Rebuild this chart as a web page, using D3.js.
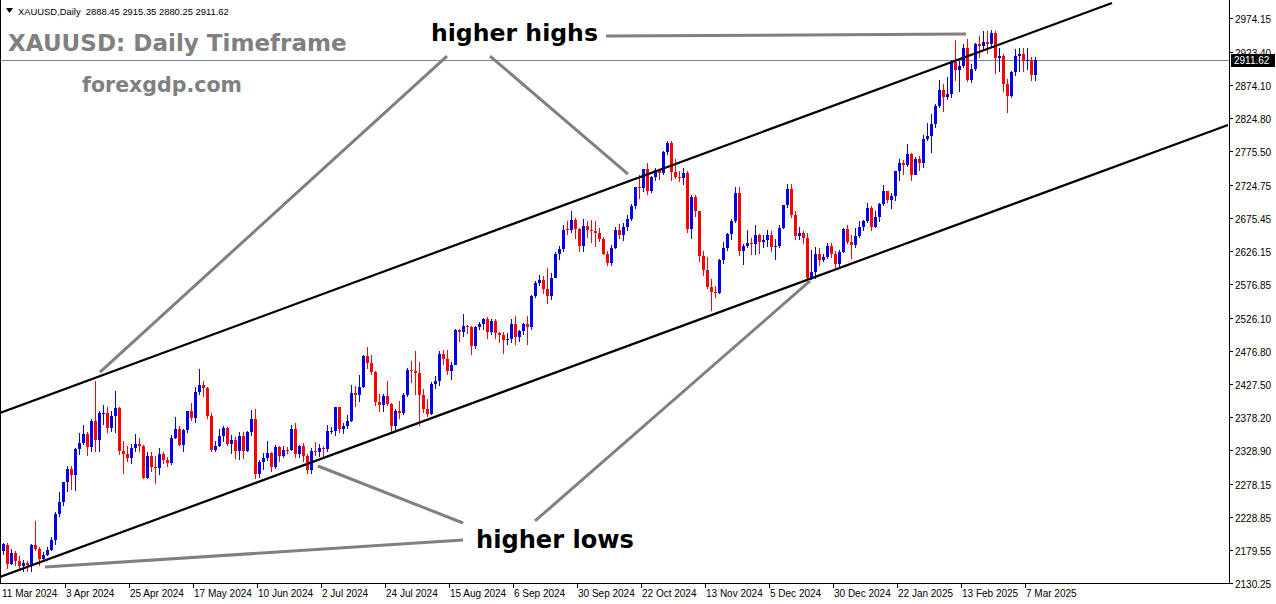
<!DOCTYPE html>
<html><head><meta charset="utf-8">
<script src="https://cdn.jsdelivr.net/npm/d3@7"></script>
<style>html,body{margin:0;padding:0;background:#fff;overflow:hidden}svg{display:block}</style>
</head><body>
<svg id="chart" width="1276" height="604"></svg>
<script>
// ---------------- data ----------------
const symbolTitle = "XAUUSD: Daily Timeframe";
const siteName = "forexgdp.com";
const headerText = "XAUUSD,Daily  2888.45 2915.35 2880.25 2911.62";
const lastPrice = 2911.62;

const dateLabels = ["11 Mar 2024","3 Apr 2024","25 Apr 2024","17 May 2024","10 Jun 2024","2 Jul 2024","24 Jul 2024","15 Aug 2024","6 Sep 2024","30 Sep 2024","22 Oct 2024","13 Nov 2024","5 Dec 2024","30 Dec 2024","22 Jan 2025","13 Feb 2025","7 Mar 2025"];
const dateLabelBars = [0,16,32,48,64,80,96,112,128,144,160,176,192,208,224,240,256];
const priceTicks = [2974.15,2923.40,2874.10,2824.80,2775.50,2724.75,2675.45,2626.15,2576.85,2526.10,2476.80,2427.50,2378.20,2328.90,2278.15,2228.85,2179.55,2130.25];

const open = [2178,2186,2158,2174,2162,2155,2160,2157,2186,2181,
2165,2172,2179,2194,2233,2251,2280,2300,2291,2330,
2339,2352,2333,2372,2344,2383,2383,2361,2379,2391,
2327,2322,2316,2332,2337,2335,2286,2320,2303,2301,
2323,2314,2309,2346,2360,2336,2358,2386,2376,2415,
2425,2421,2379,2329,2334,2350,2361,2338,2343,2327,
2350,2327,2355,2375,2293,2311,2316,2324,2303,2333,
2319,2329,2328,2360,2322,2334,2319,2298,2327,2326,
2332,2330,2356,2357,2392,2359,2364,2371,2414,2411,
2422,2469,2459,2445,2400,2396,2409,2397,2364,2387,
2384,2411,2448,2446,2443,2410,2390,2382,2427,2431,
2472,2465,2447,2456,2507,2504,2513,2512,2484,2512,
2517,2524,2504,2521,2503,2500,2493,2495,2517,2497,
2506,2516,2512,2558,2578,2582,2569,2559,2586,2621,
2629,2658,2657,2672,2658,2634,2663,2657,2656,2653,
2644,2622,2608,2630,2657,2649,2662,2674,2693,2721,
2720,2748,2715,2736,2747,2743,2774,2788,2744,2736,
2735,2742,2658,2706,2685,2618,2598,2572,2565,2563,
2612,2631,2651,2670,2712,2626,2633,2638,2637,2650,
2640,2643,2650,2632,2633,2660,2694,2718,2680,2648,
2652,2646,2586,2594,2622,2612,2617,2634,2621,2606,
2624,2658,2640,2635,2648,2661,2670,2690,2662,2677,
2696,2715,2702,2708,2745,2757,2755,2771,2740,2763,
2758,2794,2798,2815,2842,2867,2856,2861,2908,2897,
2903,2929,2882,2898,2935,2933,2939,2936,2952,2915,
2917,2876,2857,2893,2917,2920,2910,2911,2888.45];

const high = [2190,2189,2180,2178,2170,2164,2163,2188,2222,2183,
2176,2184,2199,2236,2266,2281,2304,2305,2331,2354,
2365,2355,2375,2431,2387,2395,2392,2386,2417,2393,
2342,2335,2338,2352,2346,2336,2326,2326,2320,2331,
2326,2318,2351,2378,2364,2359,2387,2398,2422,2450,
2432,2423,2384,2342,2359,2364,2363,2351,2348,2355,
2355,2357,2388,2389,2313,2324,2342,2326,2336,2334,
2335,2333,2365,2369,2336,2339,2322,2331,2340,2338,
2335,2365,2363,2393,2393,2368,2380,2425,2424,2440,
2470,2483,2470,2447,2412,2412,2431,2399,2390,2402,
2413,2451,2462,2477,2460,2420,2404,2430,2439,2476,
2478,2478,2460,2509,2509,2531,2515,2514,2513,2520,
2526,2527,2524,2524,2505,2504,2503,2524,2529,2507,
2518,2529,2560,2581,2590,2589,2600,2593,2625,2634,
2664,2670,2685,2675,2660,2673,2670,2672,2670,2660,
2647,2626,2635,2661,2666,2667,2679,2696,2722,2740,
2749,2758,2738,2750,2748,2775,2790,2790,2763,2745,
2750,2745,2710,2710,2686,2626,2617,2584,2573,2614,
2639,2652,2674,2721,2721,2637,2657,2645,2665,2651,
2650,2657,2655,2644,2664,2695,2726,2726,2685,2661,
2655,2653,2628,2632,2630,2622,2638,2638,2626,2628,
2660,2665,2649,2660,2671,2672,2697,2693,2686,2698,
2725,2716,2712,2745,2763,2762,2786,2772,2766,2768,
2799,2817,2830,2845,2882,2875,2886,2911,2942,2910,
2935,2943,2905,2937,2947,2954,2954,2956,2955,2930,
2920,2883,2895,2928,2930,2930,2930,2916,2915.35];

const low = [2172,2150,2156,2155,2150,2146,2146,2146,2178,2155,
2162,2170,2177,2186,2228,2245,2266,2268,2267,2321,
2336,2319,2325,2325,2325,2365,2354,2355,2353,2321,
2292,2310,2308,2326,2325,2285,2285,2295,2277,2291,
2307,2303,2306,2345,2334,2326,2354,2371,2369,2411,
2407,2375,2325,2325,2333,2340,2335,2323,2315,2314,
2315,2325,2350,2285,2287,2298,2312,2296,2300,2310,
2316,2322,2327,2317,2316,2310,2293,2293,2319,2318,
2315,2326,2352,2350,2353,2352,2360,2370,2392,2400,
2421,2450,2440,2394,2385,2385,2394,2353,2355,2375,
2380,2407,2428,2410,2364,2384,2378,2381,2419,2424,
2455,2441,2433,2455,2490,2498,2502,2470,2479,2507,
2507,2495,2500,2495,2488,2472,2485,2489,2485,2490,
2500,2486,2508,2555,2574,2561,2546,2552,2585,2613,
2624,2650,2653,2644,2624,2624,2645,2638,2632,2640,
2620,2604,2603,2629,2644,2641,2656,2670,2688,2704,
2714,2709,2712,2730,2732,2740,2769,2730,2733,2729,
2725,2652,2644,2677,2610,2589,2569,2536,2555,2562,
2607,2626,2643,2667,2618,2605,2630,2620,2620,2622,
2630,2632,2625,2613,2630,2658,2690,2675,2643,2643,
2637,2583,2583,2584,2603,2610,2614,2615,2597,2600,
2623,2637,2614,2630,2645,2656,2668,2656,2660,2669,
2693,2697,2689,2700,2730,2740,2751,2730,2739,2745,
2750,2790,2772,2810,2840,2834,2852,2855,2880,2864,
2900,2878,2877,2895,2915,2925,2920,2930,2890,2893,
2864,2832,2855,2888,2894,2893,2896,2880,2880.25];

const close = [2188,2158,2174,2162,2155,2160,2157,2186,2181,2165,
2172,2179,2194,2233,2251,2280,2300,2291,2330,2339,
2352,2333,2372,2344,2383,2383.5,2361,2379,2391,2327,
2322,2316,2332,2337,2335,2286,2320,2303,2301,2323,
2314,2309,2346,2360,2336,2358,2386,2376,2415,2425,
2421,2379,2329,2334,2350,2361,2338,2343,2327,2350,
2327,2355,2375,2293,2311,2316,2324,2303,2333,2319,
2329,2328,2360,2322,2334,2319,2298,2327,2326,2332,
2330,2356,2357,2392,2359,2364,2371,2414,2411,2422,
2469,2459,2445,2400,2396,2409,2397,2364,2387,2384,
2411,2448,2446,2443,2410,2390,2382,2427,2431,2472,
2465,2447,2456,2507,2504,2513,2512,2484,2512,2517,
2524,2504,2521,2503,2500,2493,2495,2517,2497,2506,
2516,2512,2558,2578,2582,2569,2559,2586,2621,2629,
2657,2657,2672,2658,2634,2663,2657,2656,2653,2644,
2622,2608,2630,2657,2649,2662,2674,2693,2721,2720,
2748,2715,2736,2747,2743,2774,2788,2744,2736,2735,
2742,2658,2706,2685,2618,2598,2572,2565,2563,2612,
2631,2651,2670,2712,2626,2633,2638,2637,2650,2640,
2643,2650,2632,2633,2660,2694,2718,2680,2648,2652,
2646,2586,2594,2622,2612,2617,2634,2621,2606,2624,
2658,2640,2635,2648,2661,2670,2690,2662,2677,2696,
2715,2702,2708,2745,2757,2755,2771,2740,2763,2758,
2794,2798,2815,2842,2867,2856,2861,2908,2897,2903,
2929,2882,2898,2935,2933,2939,2936,2952,2915,2917,
2876,2857,2893,2917,2920,2910,2911,2889,2911.62];

// channel lines: [barIndex, price]
const upperChannel = [[-0.75, 2383.6],[277.25, 2996.6]];
const lowerChannel = [[-0.75, 2138.5],[306.25, 2814.2]];
// annotation pointer lines: [barIndex, price]
const highsPointers = [
  [[111, 2917.3],[24.25, 2444.9]],
  [[121.75, 2917.3],[156.25, 2740.9]],
  [[150.75, 2947.2],[240.75, 2950.2]]
];
const lowsPointers = [
  [[115, 2219.2],[78.75, 2304.4]],
  [[133, 2222.2],[201.75, 2581.0]],
  [[115, 2193.8],[10.5, 2153.4]]
];

// ---------------- drawing ----------------
const W = 1276, H = 604;
const plotRight = 1229, plotBottom = 583;
const svg = d3.select("#chart");

const x = d3.scaleLinear().domain([0, 306]).range([3, 1227]);
const y = d3.scaleLinear().domain([2130.25, 2974.15]).range([582.5, 18]);

svg.append("rect").attr("width", W).attr("height", H).attr("fill", "#fff");

svg.append("defs").append("clipPath").attr("id", "plotClip")
  .append("rect").attr("x", 0).attr("y", 0).attr("width", plotRight).attr("height", plotBottom);

const plot = svg.append("g").attr("clip-path", "url(#plotClip)");

// last price line
plot.append("line")
  .attr("x1", 0).attr("x2", plotRight)
  .attr("y1", Math.round(y(lastPrice)) + 0.5).attr("y2", Math.round(y(lastPrice)) + 0.5)
  .attr("stroke", "#778899").attr("stroke-width", 1);

// candles
const bars = d3.range(open.length);
const cg = plot.append("g").attr("shape-rendering", "crispEdges");
const col = i => close[i] >= open[i] ? "#0000e6" : "#ff0000";
cg.selectAll("line.wick").data(bars).join("line")
  .attr("class", "wick")
  .attr("x1", i => Math.round(x(i)) + 0.5).attr("x2", i => Math.round(x(i)) + 0.5)
  .attr("y1", i => y(high[i])).attr("y2", i => y(low[i]))
  .attr("stroke", col).attr("stroke-width", 1);
cg.selectAll("rect.body").data(bars).join("rect")
  .attr("class", "body")
  .attr("x", i => Math.round(x(i)) - 1)
  .attr("width", 3)
  .attr("y", i => y(Math.max(open[i], close[i])))
  .attr("height", i => Math.max(1, Math.abs(y(open[i]) - y(close[i]))))
  .attr("fill", col);

// channel lines
const lineGen = d3.line().x(d => x(d[0])).y(d => y(d[1]));
[upperChannel, lowerChannel].forEach(l => {
  plot.append("path").attr("d", lineGen(l))
    .attr("fill", "none").attr("stroke", "#000").attr("stroke-width", 2.2);
});

// pointer lines
[...highsPointers, ...lowsPointers].forEach(l => {
  plot.append("path").attr("d", lineGen(l))
    .attr("fill", "none").attr("stroke", "#808080").attr("stroke-width", 3);
});

// borders
svg.append("line").attr("x1", 0.5).attr("x2", 0.5).attr("y1", 0).attr("y2", plotBottom)
  .attr("stroke", "#000").attr("stroke-width", 1);
svg.append("line").attr("x1", plotRight + 0.5).attr("x2", plotRight + 0.5).attr("y1", 0).attr("y2", plotBottom + 0.5)
  .attr("stroke", "#000").attr("stroke-width", 1);
svg.append("line").attr("x1", 0).attr("x2", plotRight + 1).attr("y1", plotBottom + 0.5).attr("y2", plotBottom + 0.5)
  .attr("stroke", "#000").attr("stroke-width", 1);

// right price axis
const axisFont = "Liberation Sans, Arial, sans-serif";
const ya = svg.append("g").attr("shape-rendering", "crispEdges");
priceTicks.forEach(p => {
  const yy = Math.round(y(p)) + 0.5;
  ya.append("line").attr("x1", plotRight).attr("x2", plotRight + 4).attr("y1", yy).attr("y2", yy)
    .attr("stroke", "#000");
  svg.append("text").attr("x", 1235).attr("y", yy + 4)
    .attr("font-family", axisFont).attr("font-size", 10).attr("fill", "#000")
    .text(p.toFixed(2));
});
// last price tag
const lpY = Math.round(y(lastPrice));
svg.append("rect").attr("x", 1231).attr("y", lpY - 6).attr("width", 44).attr("height", 13).attr("fill", "#000");
svg.append("text").attr("x", 1234).attr("y", lpY + 4)
  .attr("font-family", axisFont).attr("font-size", 10).attr("fill", "#fff").text(lastPrice.toFixed(2));

// bottom date axis
dateLabels.forEach((lab, k) => {
  const xx = Math.round(x(dateLabelBars[k])) - 2;
  if (k > 0) {
    svg.append("line").attr("x1", xx + 0.5).attr("x2", xx + 0.5).attr("y1", plotBottom).attr("y2", plotBottom + 5)
      .attr("stroke", "#000").attr("shape-rendering", "crispEdges");
  }
  svg.append("text").attr("x", xx + 1).attr("y", 597)
    .attr("font-family", axisFont).attr("font-size", 10).attr("fill", "#000").text(lab);
});

// texts
function fit(sel, w) {
  const cur = sel.node().getComputedTextLength();
  const fs = parseFloat(sel.attr("font-size"));
  sel.attr("font-size", fs * w / cur);
  return sel;
}
// header triangle + text
svg.append("path").attr("d", "M6,8 L13,8 L9.5,13 Z").attr("fill", "#000");
fit(svg.append("text").attr("x", 18).attr("y", 15)
  .attr("font-family", axisFont).attr("font-size", 11).attr("fill", "#000")
  .attr("xml:space", "preserve").style("white-space", "pre").text(headerText), 211);

const bigFont = "DejaVu Sans, Verdana, sans-serif";
fit(svg.append("text").attr("x", 8).attr("y", 51)
  .attr("font-family", bigFont).attr("font-weight", "bold").attr("font-size", 25)
  .attr("fill", "#808080").text(symbolTitle), 339);
fit(svg.append("text").attr("x", 82).attr("y", 92)
  .attr("font-family", bigFont).attr("font-weight", "bold").attr("font-size", 21)
  .attr("fill", "#808080").text(siteName), 160);
fit(svg.append("text").attr("x", 431).attr("y", 41)
  .attr("font-family", bigFont).attr("font-weight", "bold").attr("font-size", 24)
  .attr("fill", "#000").text("higher highs"), 167);
fit(svg.append("text").attr("x", 476).attr("y", 548)
  .attr("font-family", bigFont).attr("font-weight", "bold").attr("font-size", 24)
  .attr("fill", "#000").text("higher lows"), 158);
</script>
</body></html>
